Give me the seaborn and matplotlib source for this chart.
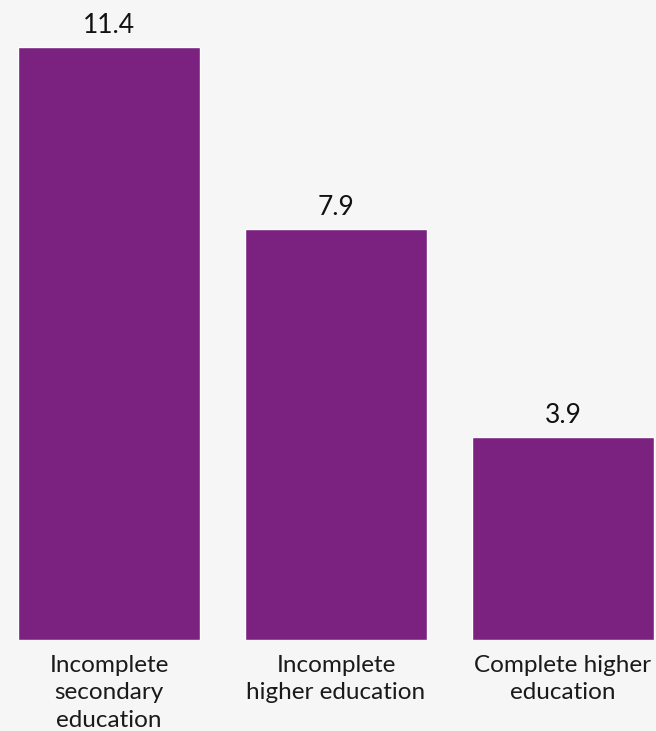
import matplotlib
matplotlib.use("Agg")
import matplotlib.pyplot as plt
import seaborn as sns
import pandas as pd

categories = ["Incomplete\nsecondary\neducation", "Incomplete\nhigher education", "Complete higher\neducation"]
values = [11.4, 7.9, 3.9]
value_labels = ["11.4", "7.9", "3.9"]

sns.set_style("white")
plt.rcParams['font.family'] = ['Lato', 'DejaVu Sans']

df = pd.DataFrame({"category": categories, "value": values})

bg = "#f6f6f6"
fig = plt.figure(figsize=(6.56, 7.31), dpi=100, facecolor=bg)
ax = fig.add_axes([0, 91/731, 1, 1 - 91/731])
ax.set_facecolor(bg)

sns.barplot(data=df, x="category", y="value", color="#7b2280", saturation=1,
            width=0.8, ax=ax)

ax.set_xlim(-0.48, 2.41)
ax.set_ylim(0, 12.31)
for s in ax.spines.values():
    s.set_visible(False)
ax.set_yticks([])
ax.set_xlabel("")
ax.set_ylabel("")
ax.tick_params(axis="x", length=0, pad=10.5, labelsize=17.5, labelcolor="#1a1a1a")
for lbl in ax.get_xticklabels():
    lbl.set_linespacing(1.4)

for i, (v, t) in enumerate(zip(values, value_labels)):
    ax.annotate(t, (i, v), xytext=(0, 10), textcoords="offset points",
                ha="center", va="baseline", fontsize=19, color="#111111")

fig.savefig("out.png", dpi=100, facecolor=bg)
